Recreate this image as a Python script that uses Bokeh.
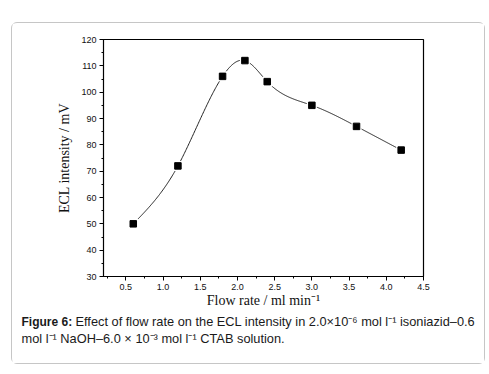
import numpy as np
from bokeh.plotting import figure
from bokeh.layouts import column
from bokeh.models import Range1d, SingleIntervalTicker, NumeralTickFormatter
from bokeh.core.properties import value
from bokeh.embed import file_html
from bokeh.resources import INLINE

# ---- data ----
flow_rate = [0.6, 1.2, 1.8, 2.1, 2.4, 3.0, 3.6, 4.2]
ecl_intensity = [50, 72, 106, 112, 104, 95, 87, 78]

x_label = "Flow rate / ml min\u207b\u00b9"
y_label = "ECL intensity / mV"
caption_bold = ["Figure 6:"]
caption_rest = ["Effect of flow rate on the ECL intensity in 2.0\u00d710\u207b\u2076 mol l\u207b\u00b9 isoniazid\u20130.6",
                "mol l\u207b\u00b9 NaOH\u20136.0 \u00d7 10\u207b\u00b3 mol l\u207b\u00b9 CTAB solution."]


def natural_spline(xs, ys, n=400):
    xs = np.asarray(xs, float)
    ys = np.asarray(ys, float)
    k = len(xs)
    h = np.diff(xs)
    A = np.zeros((k, k))
    b = np.zeros(k)
    A[0, 0] = 1
    A[-1, -1] = 1
    for i in range(1, k - 1):
        A[i, i - 1] = h[i - 1]
        A[i, i] = 2 * (h[i - 1] + h[i])
        A[i, i + 1] = h[i]
        b[i] = 3 * ((ys[i + 1] - ys[i]) / h[i] - (ys[i] - ys[i - 1]) / h[i - 1])
    c = np.linalg.solve(A, b)
    xx = np.linspace(xs[0], xs[-1], n)
    yy = np.empty_like(xx)
    for j, xv in enumerate(xx):
        i = min(np.searchsorted(xs, xv, side="right") - 1, k - 2)
        dx = xv - xs[i]
        bi = (ys[i + 1] - ys[i]) / h[i] - h[i] * (2 * c[i] + c[i + 1]) / 3
        di = (c[i + 1] - c[i]) / (3 * h[i])
        yy[j] = ys[i] + bi * dx + c[i] * dx ** 2 + di * dx ** 3
    return xx, yy


W = 472
H_MAIN = 289
H_CAP = 51
FL, FT, FW, FH = 91, 16, 320, 237

p = figure(width=W, height=H_MAIN, output_backend="svg", toolbar_location=None,
           x_range=Range1d(0.2, 4.5), y_range=Range1d(30, 120),
           min_border_left=FL, min_border_top=FT,
           min_border_right=W - FL - FW, min_border_bottom=H_MAIN - FT - FH)
p.frame_align = False

p.grid.visible = False
p.outline_line_color = "black"
p.outline_line_width = 1.2
p.background_fill_color = "white"
p.border_fill_color = "white"

for ax in (p.xaxis[0], p.yaxis[0]):
    ax.axis_line_color = "black"
    ax.major_tick_line_color = "black"
    ax.minor_tick_line_color = "black"
    ax.major_tick_in = 0
    ax.major_tick_out = 4
    ax.minor_tick_in = 0
    ax.minor_tick_out = 2
    ax.major_label_text_font = "Liberation Sans"
    ax.major_label_text_font_size = "9px"
    ax.major_label_text_color = "#111111"
    ax.axis_label_text_font = "Liberation Serif"
    ax.axis_label_text_font_style = "normal"
    ax.axis_label_text_font_size = "14px"
    ax.axis_label_text_color = "#111111"

p.xaxis.ticker = SingleIntervalTicker(interval=0.5, num_minor_ticks=2)
p.xaxis.formatter = NumeralTickFormatter(format="0.0")
p.yaxis.ticker = SingleIntervalTicker(interval=10, num_minor_ticks=2)
p.xaxis.axis_label = x_label
p.yaxis.axis_label = y_label
p.xaxis.major_label_standoff = 3
p.xaxis.axis_label_standoff = 0
p.yaxis.major_label_standoff = 3
p.yaxis.axis_label_standoff = 6

sx, sy = natural_spline(flow_rate, ecl_intensity)
p.line(sx, sy, line_color="#222222", line_width=1)
p.scatter(flow_rate, ecl_intensity, marker="square", size=10,
          fill_color="white", line_color=None)
p.scatter(flow_rate, ecl_intensity, marker="square", size=6.5,
          fill_color="black", line_color="black")

# caption strip (pixel coordinates, y downward)
cap = figure(width=W, height=H_CAP, output_backend="svg", toolbar_location=None,
             x_range=Range1d(0, W), y_range=Range1d(H_CAP, 0),
             min_border=0, outline_line_color=None)
cap.frame_align = False
cap.axis.visible = False
cap.grid.visible = False
cap.border_fill_color = "white"
cap.background_fill_color = "white"

cap.text(x=[9], y=[9], text=caption_bold, text_font=value("Liberation Sans"),
         text_font_size="12px", text_font_style="bold", text_color="#1a1a1a",
         text_baseline="middle", text_align="left")
cap.text(x=[63], y=[9], text=caption_rest[:1], text_font=value("Liberation Sans"),
         text_font_size="12.8px", text_color="#1a1a1a", text_baseline="middle",
         text_align="left")
cap.text(x=[9], y=[26], text=caption_rest[1:], text_font=value("Liberation Sans"),
         text_font_size="12.8px", text_color="#1a1a1a", text_baseline="middle",
         text_align="left")

layout = column(p, cap, spacing=0)
layout.styles = {"border": "1px solid #c6c6c6", "border-radius": "6px",
                 "margin-left": "11px", "margin-top": "22px",
                 "background": "white"}

open("out.html", "w").write(file_html(layout, INLINE))
